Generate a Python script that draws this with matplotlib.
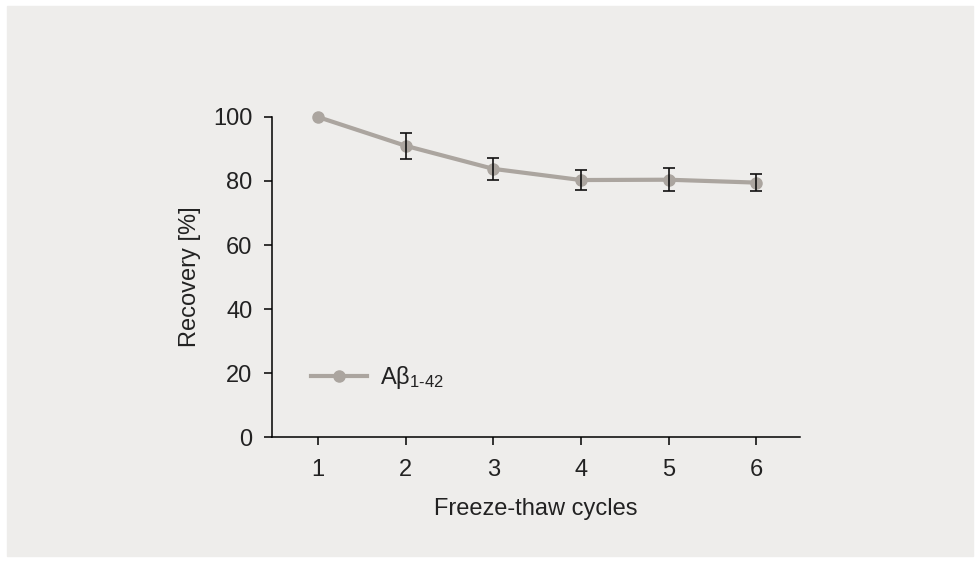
import matplotlib
matplotlib.use('Agg')
import matplotlib.pyplot as plt
from matplotlib.patches import Rectangle

cycles = [1, 2, 3, 4, 5, 6]
recovery = [100.0, 91.0, 83.8, 80.3, 80.4, 79.5]
recovery_err = [0.0, 4.0, 3.5, 3.0, 3.6, 2.7]
series_label = r'A$\beta_{1\text{-}42}$'

plt.rcParams['font.family'] = ['Liberation Sans', 'DejaVu Sans']
plt.rcParams['mathtext.fontset'] = 'custom'
plt.rcParams['mathtext.rm'] = 'Liberation Sans'
plt.rcParams['mathtext.it'] = 'Liberation Sans'

line_col = '#aba59f'
text_col = '#222222'
fs = 17

fig = plt.figure(figsize=(9.8, 5.62), dpi=100)
# grey panel behind the chart
fig.patches.append(Rectangle((7 / 980, 1 - 556 / 562), 966 / 980, 550 / 562,
                             transform=fig.transFigure, color='#eeedeb', zorder=-10))
ax = fig.add_axes([272 / 980, 1 - 437 / 562, 528 / 980, 320 / 562])
ax.set_facecolor('none')

ax.plot(cycles, recovery, '-o', color=line_col, lw=3, ms=8, label=series_label,
        zorder=2, clip_on=False)
# first point has no error bar
has_err = [e > 0 for e in recovery_err]
ax.errorbar([c for c, h in zip(cycles, has_err) if h],
            [r for r, h in zip(recovery, has_err) if h],
            yerr=[e for e, h in zip(recovery_err, has_err) if h],
            fmt='none', ecolor='#111111', elinewidth=1.2, capsize=4, capthick=1.2, zorder=3)

ax.set_xlim(0.475, 6.5)
ax.set_ylim(0, 100)
ax.set_xticks(cycles)
ax.set_yticks([0, 20, 40, 60, 80, 100])
for s in ['top', 'right']:
    ax.spines[s].set_visible(False)
for s in ['left', 'bottom']:
    ax.spines[s].set_linewidth(1.1)
ax.tick_params(axis='x', pad=10)
ax.tick_params(direction='out', length=6, width=1.1, labelsize=fs, labelcolor=text_col)
ax.tick_params(axis='y', pad=8)
ax.set_xlabel('Freeze-thaw cycles', fontsize=fs, color=text_col, labelpad=12)
ax.set_ylabel('Recovery [%]', fontsize=fs, color=text_col, labelpad=9)

leg = ax.legend(loc='center left', bbox_to_anchor=(0.034, 0.185), frameon=False,
                fontsize=fs, handlelength=2.35, handletextpad=0.55)
for t in leg.get_texts():
    t.set_color(text_col)

fig.savefig('out.png', dpi=100, facecolor='white')
